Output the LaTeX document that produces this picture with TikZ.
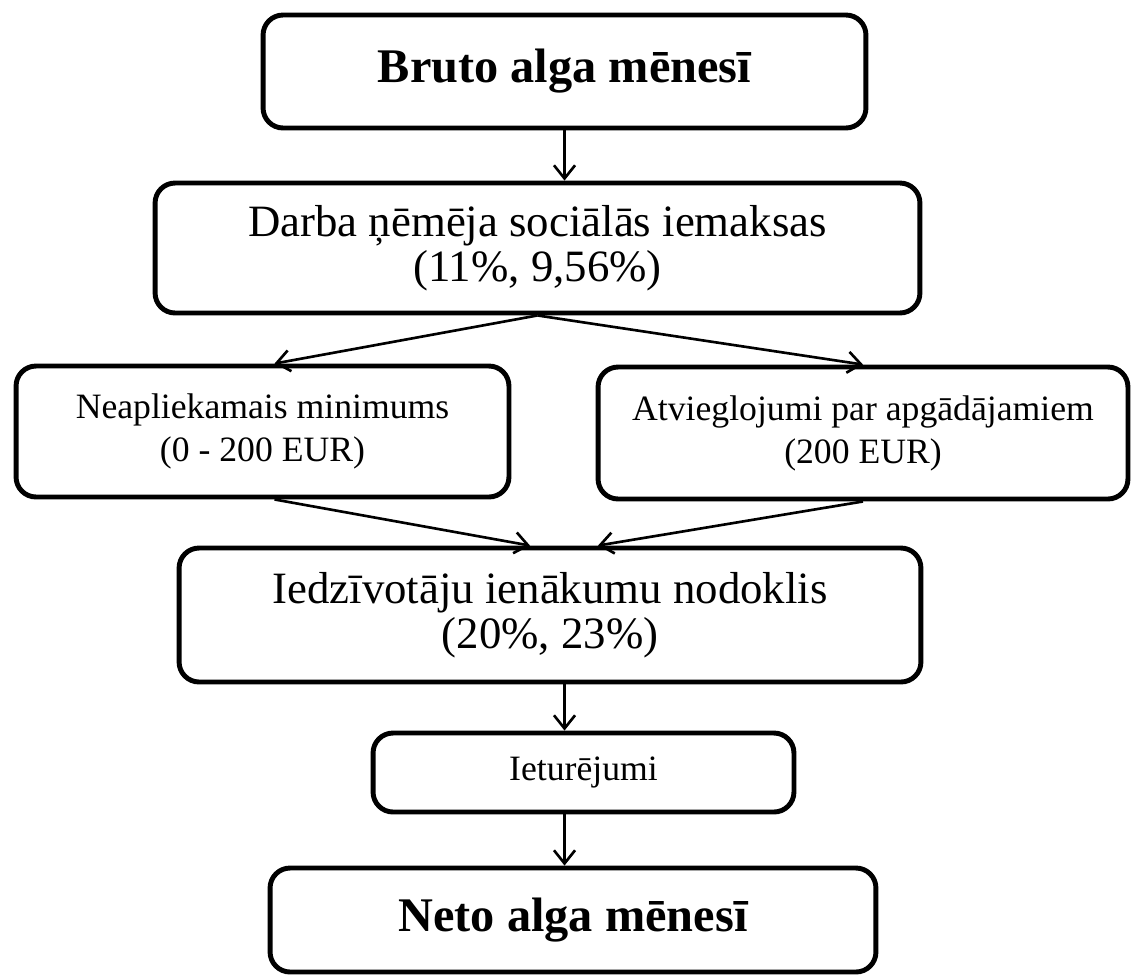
\documentclass[tikz,border=0pt]{standalone}
\usepackage{fontspec}
\setmainfont{Liberation Serif}
\usetikzlibrary{arrows.meta, positioning, calc}

\tikzset{
  box/.style={draw, line width=2.8pt, rounded corners=0.4cm, align=center, inner sep=0pt},
  bigtext/.style={font=\fontsize{27.5}{30}\selectfont\bfseries},
  midtext/.style={font=\fontsize{25.5}{25.6}\selectfont},
  smalltext/.style={font=\fontsize{20.3}{24.5}\selectfont},
  arr/.style={-{Straight Barb[length=7.5pt, width=12pt]}, line width=1.5pt}
}

\begin{document}
\begin{tikzpicture}[x=0.02cm, y=-0.02cm]
  \useasboundingbox (0,0) rectangle (1131,978);
  % Boxes
  \node[box, bigtext, minimum width=12.06cm, minimum height=2.26cm] (bruto) at (564.5,71.5) {Bruto alga mēnesī};
  \node[box, midtext, minimum width=15.3cm, minimum height=2.6cm] (darba) at (537.5,248) {Darba ņēmēja sociālās iemaksas\\(11\%, 9,56\%)};
  \node[box, smalltext, minimum width=9.86cm, minimum height=2.62cm] (neapl) at (262.5,431.5) {Neapliekamais minimums\\(0 - 200 EUR)};
  \node[box, smalltext, minimum width=10.6cm, minimum height=2.64cm] (atvieg) at (863,433) {Atvieglojumi par apgādājamiem\\(200 EUR)};
  \node[box, midtext, minimum width=14.84cm, minimum height=2.68cm] (iedz) at (550,615) {Iedzīvotāju ienākumu nodoklis\\(20\%, 23\%)};
  \node[box, smalltext, minimum width=8.42cm, minimum height=1.58cm] (ietur) at (583.5,772.5) {Ieturējumi};
  \node[box, bigtext, minimum width=12.12cm, minimum height=2.08cm] (neto) at (573,920) {Neto alga mēnesī};
  % Arrows
  \draw[arr] (bruto.south) -- (bruto.south |- darba.north);
  \draw[arr] (darba.south) -- ($(neapl.north)+(12,0)$);
  \draw[arr] (darba.south) -- (atvieg.north);
  \draw[arr] ($(neapl.south)+(12,0)$) -- ($(iedz.north)+(-20,0)$);
  \draw[arr] (atvieg.south) -- ($(iedz.north)+(48,0)$);
  \draw[arr] (iedz.south -| bruto.south) -- (ietur.north -| bruto.south);
  \draw[arr] (ietur.south -| bruto.south) -- (neto.north -| bruto.south);
\end{tikzpicture}
\end{document}
